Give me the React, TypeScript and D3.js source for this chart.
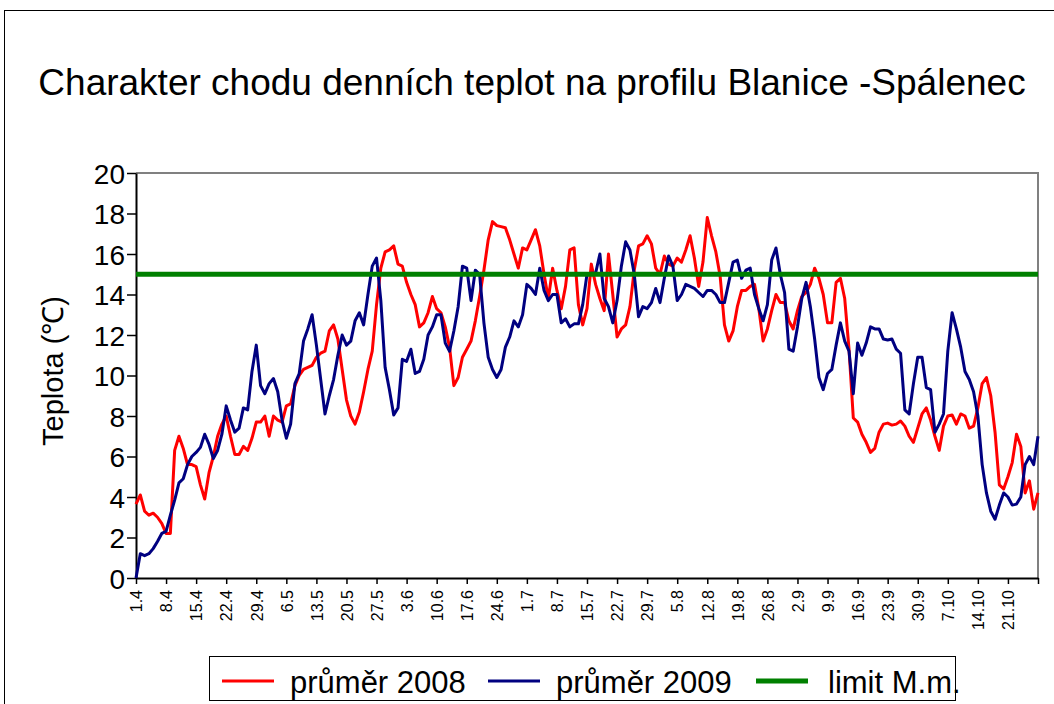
import React, { useEffect, useRef } from 'react';
import * as d3 from 'd3';

// tick labels (every 7th day, starting 1.4)
const tickLabels = [
    "1.4", "8.4", "15.4", "22.4", "29.4", "6.5", "13.5", "20.5", "27.5", "3.6",
    "10.6", "17.6", "24.6", "1.7", "8.7", "15.7", "22.7", "29.7", "5.8", "12.8",
    "19.8", "26.8", "2.9", "9.9", "16.9", "23.9", "30.9", "7.10", "14.10", "21.10",
];

// daily mean water temperature, 1.4 - 28.10
const prumer2008 = [
    3.65, 4.1, 3.3, 3.1, 3.2, 3.0, 2.7, 2.2, 2.2, 6.3,
    7.0, 6.4, 5.6, 5.6, 5.5, 4.6, 3.9, 5.2, 6.0, 7.0,
    7.6, 8.0, 7.0, 6.1, 6.1, 6.5, 6.3, 6.9, 7.7, 7.7,
    8.0, 7.0, 8.0, 7.8, 7.7, 8.5, 8.6, 9.5, 10.0, 10.3,
    10.4, 10.5, 10.9, 11.1, 11.2, 12.2, 12.5, 11.8, 10.3, 8.8,
    8.0, 7.6, 8.2, 9.2, 10.3, 11.2, 13.5, 15.3, 16.1, 16.2,
    16.4, 15.5, 15.4, 14.6, 14.0, 13.5, 12.4, 12.6, 13.1, 13.9,
    13.3, 13.1, 12.4, 11.4, 9.5, 9.9, 10.9, 11.3, 11.7, 12.7,
    13.9, 15.2, 16.7, 17.6, 17.4, 17.35, 17.3, 16.7, 16.0, 15.3,
    16.3, 16.2, 16.7, 17.2, 16.4, 15.0, 13.8, 15.3, 14.2, 13.3,
    14.4, 16.2, 16.3, 13.5, 12.5, 13.3, 15.5, 14.5, 13.8, 13.2,
    16.0, 14.0, 11.9, 12.3, 12.5, 13.4, 15.2, 16.4, 16.5, 16.9,
    16.5, 15.3, 15.0, 15.9, 15.5, 15.4, 15.8, 15.6, 16.2, 16.9,
    15.8, 14.4, 15.6, 17.8, 16.9, 16.1, 14.9, 12.5, 11.7, 12.2,
    13.4, 14.2, 14.2, 14.4, 14.5, 13.3, 11.7, 12.3, 13.2, 14.0,
    13.6, 13.6, 12.7, 12.3, 13.2, 13.9, 14.1, 14.5, 15.3, 14.8,
    14.0, 12.6, 12.6, 14.6, 14.8, 13.8, 11.3, 7.9, 7.7, 7.1,
    6.7, 6.2, 6.4, 7.2, 7.6, 7.65, 7.55, 7.6, 7.75, 7.5,
    7.0, 6.7, 7.4, 8.1, 8.4, 7.8, 7.0, 6.3, 7.5, 8.0,
    8.05, 7.6, 8.1, 8.0, 7.4, 7.5, 8.4, 9.6, 9.9, 9.0,
    7.2, 4.6, 4.4, 5.0, 5.7, 7.1, 6.5, 4.2, 4.8, 3.4,
    4.2,
];

const prumer2009 = [
    0, 1.2, 1.1, 1.2, 1.45, 1.8, 2.2, 2.3, 3.1, 3.85,
    4.7, 4.9, 5.6, 6.0, 6.2, 6.45, 7.1, 6.6, 5.9, 6.3,
    7.1, 8.5, 7.8, 7.2, 7.4, 8.4, 8.3, 10.2, 11.5, 9.5,
    9.1, 9.6, 9.85, 9.2, 7.8, 6.9, 7.6, 9.6, 10.1, 11.7,
    12.3, 13.0, 11.5, 9.8, 8.1, 9.0, 9.8, 11.0, 12.0, 11.5,
    11.7, 12.7, 13.1, 12.5, 14.0, 15.4, 15.8, 13.7, 10.4, 9.3,
    8.05, 8.4, 10.8, 10.7, 11.3, 10.1, 10.2, 10.8, 12.0, 12.4,
    13.0, 13.0, 11.6, 11.2, 12.2, 13.4, 15.4, 15.3, 13.7, 15.2,
    15.0, 12.6, 10.9, 10.3, 9.9, 10.3, 11.4, 11.9, 12.7, 12.4,
    13.0, 14.5, 14.3, 14.0, 15.3, 14.2, 13.7, 14.0, 14.0, 12.6,
    12.8, 12.4, 12.55, 12.55, 13.5, 15.0, 15.05, 15.05, 16.0, 13.8,
    13.4, 12.6, 13.7, 15.4, 16.6, 16.2, 15.0, 12.9, 13.4, 13.3,
    13.6, 14.3, 13.6, 14.8, 15.9, 15.4, 13.7, 14.0, 14.5, 14.4,
    14.3, 14.1, 13.9, 14.2, 14.2, 14.0, 13.6, 13.6, 14.6, 15.6,
    15.7, 14.8, 15.2, 15.3, 14.0, 13.3, 12.7, 13.5, 15.7, 16.3,
    15.0, 14.1, 11.3, 11.2, 12.4, 13.8, 14.6, 13.4, 11.8, 9.9,
    9.3, 10.1, 10.3, 11.5, 12.6, 11.7, 11.2, 9.1, 11.6, 11.0,
    11.6, 12.4, 12.3, 12.3, 11.8, 11.75, 11.8, 11.3, 11.1, 8.3,
    8.1, 9.6, 10.9, 10.9, 9.4, 9.3, 7.2, 7.6, 8.1, 11.2,
    13.1, 12.3, 11.4, 10.2, 9.8, 9.2, 8.0, 5.6, 4.2, 3.3,
    2.9, 3.6, 4.2, 4.0, 3.6, 3.65, 4.0, 5.6, 6.0, 5.6,
    7.0,
];

const limitMm = 15;
const yTicks = [0, 2, 4, 6, 8, 10, 12, 14, 16, 18, 20];

const FONT = "'Liberation Sans', Arial, sans-serif";

export default function App() {
    const ref = useRef<SVGSVGElement>(null);

    useEffect(() => {
        const svg = d3.select(ref.current);
        svg.selectAll("*").remove();

        const width = 1054, height = 704;
        const margin = { top: 173, left: 136, bottom: 578, right: 1038 };

        svg.append("rect").attr("width", width).attr("height", height).attr("fill", "white");

        // chart area border
        svg.append("rect")
            .attr("x", 4.5).attr("y", 10.5)
            .attr("width", 1100).attr("height", 800)
            .attr("fill", "none").attr("stroke", "#000").attr("stroke-width", 1);

        // title
        svg.append("text")
            .attr("x", 532).attr("y", 95)
            .attr("font-family", FONT).attr("font-size", 37)
            .style("text-anchor", "middle")
            .text("Charakter chodu denních teplot na profilu Blanice -Spálenec");

        const x = d3.scaleLinear()
            .domain([0, prumer2008.length - 1])
            .range([margin.left, margin.right]);

        const y = d3.scaleLinear()
            .domain([0, 20])
            .range([margin.bottom, margin.top]);

        // plot area border (top + right in grey)
        svg.append("path")
            .attr("d", `M${margin.left},${margin.top}H${margin.right}V${margin.bottom}`)
            .attr("fill", "none").attr("stroke", "#808080").attr("stroke-width", 2);

        // y axis
        const yAxis = svg.append("g")
            .attr("transform", `translate(${margin.left},0)`)
            .call(d3.axisLeft(y).tickValues(yTicks).tickSize(9).tickPadding(2).tickSizeOuter(0));
        yAxis.select(".domain").attr("stroke", "#000").attr("stroke-width", 2);
        yAxis.selectAll(".tick line").attr("stroke", "#000").attr("stroke-width", 1.5);
        yAxis.selectAll(".tick text")
            .attr("font-family", FONT).attr("font-size", 28).attr("fill", "#000")
            .attr("dy", "0.36em");

        // x axis
        const xTickValues = d3.range(0, prumer2008.length, 7);
        const xAxis = svg.append("g")
            .attr("transform", `translate(0,${margin.bottom})`)
            .call(d3.axisBottom(x).tickValues(xTickValues).tickSize(6).tickSizeOuter(0)
                .tickFormat((d, i) => tickLabels[i] ?? ""));
        xAxis.select(".domain").attr("stroke", "#000").attr("stroke-width", 2);
        xAxis.selectAll(".tick line").attr("stroke", "#000").attr("stroke-width", 1.5);
        xAxis.selectAll(".tick text")
            .attr("font-family", FONT).attr("font-size", 16).attr("fill", "#000")
            .attr("transform", "rotate(-90)")
            .attr("x", -12).attr("y", 0).attr("dy", "0.36em")
            .style("text-anchor", "end");

        // y axis title
        svg.append("text")
            .attr("transform", "translate(63,371) rotate(-90)")
            .attr("font-family", FONT).attr("font-size", 29)
            .style("text-anchor", "middle")
            .text("Teplota (℃)");

        // series
        const line = d3.line<number>()
            .x((d, i) => x(i))
            .y(d => y(d));

        svg.append("path")
            .datum(prumer2008)
            .attr("d", line)
            .attr("fill", "none").attr("stroke", "#FF0000").attr("stroke-width", 3)
            .attr("stroke-linejoin", "round");

        svg.append("path")
            .datum(prumer2009)
            .attr("d", line)
            .attr("fill", "none").attr("stroke", "#000080").attr("stroke-width", 3)
            .attr("stroke-linejoin", "round");

        const limitLine = prumer2008.map(() => limitMm);
        svg.append("path")
            .datum(limitLine)
            .attr("d", line)
            .attr("fill", "none").attr("stroke", "#008000").attr("stroke-width", 5);

        // legend
        const legend = svg.append("g");
        legend.append("rect")
            .attr("x", 209.5).attr("y", 656.5).attr("width", 746).attr("height", 44)
            .attr("fill", "white").attr("stroke", "#000").attr("stroke-width", 1);

        const items = [
            { label: "průměr 2008", color: "#FF0000", width: 3, x0: 222, tx: 290 },
            { label: "průměr 2009", color: "#000080", width: 3, x0: 488, tx: 556 },
            { label: "limit M.m.", color: "#008000", width: 5, x0: 756, tx: 828 },
        ];
        items.forEach(it => {
            legend.append("line")
                .attr("x1", it.x0).attr("x2", it.x0 + 52)
                .attr("y1", 681).attr("y2", 681)
                .attr("stroke", it.color).attr("stroke-width", it.width);
            legend.append("text")
                .attr("x", it.tx).attr("y", 693)
                .attr("font-family", FONT).attr("font-size", 31)
                .text(it.label);
        });
    }, []);

    return (
        <svg ref={ref} width={1054} height={704}
            style={{ position: "absolute", left: 0, top: 0, display: "block" }} />
    );
}
